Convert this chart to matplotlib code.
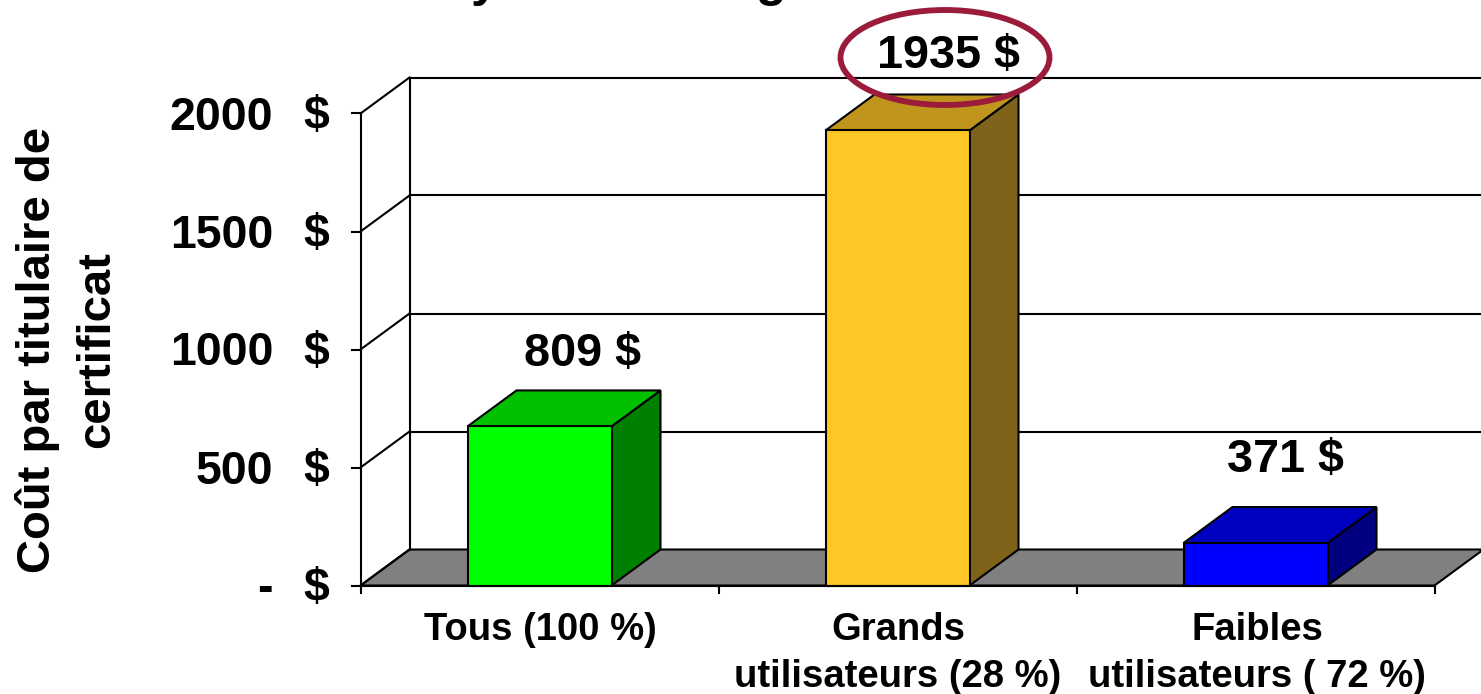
import numpy as np
import matplotlib
matplotlib.use('Agg')
import matplotlib.pyplot as plt
from matplotlib.patches import Polygon, Ellipse

plt.rcParams['font.family'] = ['Liberation Sans', 'DejaVu Sans']
plt.rcParams['font.weight'] = 'bold'

categories = ['Tous (100 %)', 'Grands\nutilisateurs (28 %)', 'Faibles\nutilisateurs ( 72 %)']
bar_heights = [674, 1928, 180]
value_labels = ['809 $', '1935 $', '371 $']
bar_colors = ['#00ff00', '#ffc726', '#0000ff']
top_colors = ['#00c000', '#bf951d', '#0000c0']
side_colors = ['#008000', '#80631a', '#000080']
y_ticks = [0, 500, 1000, 1500, 2000]
y_ticklabels = ['-', '500', '1000', '1500', '2000']
ylabel = 'Coût par titulaire de\ncertificat'

W, H = 1481, 694
x0_px, unit_x = 539.5, 358.0
y0_px, unit_y = 585.5, 472.0 / 2000
dx, dy = 49 / unit_x, 36 / unit_y
half = 72.0 / unit_x

def px_x(px):
    return (px - x0_px) / unit_x

def px_y(py):
    return (y0_px - py) / unit_y

fig = plt.figure(figsize=(W / 100, H / 100), dpi=100)
ax = fig.add_axes([0, 0, 1, 1])
ax.set_xlim(px_x(0), px_x(W))
ax.set_ylim(px_y(H), px_y(0))
ax.axis('off')

lw = 1.5
left, right = -0.5, 2.5

# plancher gris
ax.add_patch(Polygon([(left, 0), (right, 0), (right + dx, dy), (left + dx, dy)],
                     fc='#808080', ec='black', lw=lw, zorder=1))

# murs et grille
ax.plot([left, left], [0, 2000], color='black', lw=lw, zorder=2)
ax.plot([left + dx, left + dx], [dy, 2000 + dy], color='black', lw=lw, zorder=2)
for t in y_ticks:
    ax.plot([left, left + dx], [t, t + dy], color='black', lw=lw, zorder=2)
    if t > 0:
        ax.plot([left + dx, right + 0.2], [t + dy, t + dy], color='black', lw=lw, zorder=2)
    ax.plot([left - 9 / unit_x, left], [t, t], color='black', lw=lw, zorder=2)

# axe x
ax.plot([left, right], [0, 0], color='black', lw=lw, zorder=5)
for i in range(4):
    ax.plot([left + i, left + i], [0, -7 / unit_y], color='black', lw=lw, zorder=5)

# barres 3D
for i, h in enumerate(bar_heights):
    l, r = i - half, i + half
    ax.add_patch(Polygon([(r, 0), (r + dx, dy), (r + dx, h + dy), (r, h)],
                         fc=side_colors[i], ec='black', lw=lw, zorder=3))
    ax.add_patch(Polygon([(l, h), (r, h), (r + dx, h + dy), (l + dx, h + dy)],
                         fc=top_colors[i], ec='black', lw=lw, zorder=3))
    ax.add_patch(Polygon([(l, 0), (r, 0), (r, h), (l, h)],
                         fc=bar_colors[i], ec='black', lw=lw, zorder=4))

# valeurs
label_pos = [(583, 354), (948, 56), (1285, 460)]
for (px, py), s in zip(label_pos, value_labels):
    ax.text(px_x(px), px_y(py), s, ha='center', va='center', fontsize=33.7, zorder=7)

# ellipse
ax.add_patch(Ellipse((px_x(945), px_y(57.5)), 209 / unit_x, 95 / unit_y,
                     fc='none', ec='#9b1b3a', lw=4.2, zorder=6))

# etiquettes
for t, s in zip(y_ticks, y_ticklabels):
    ax.text(px_x(273), t - 4 / unit_y, s, ha='right', va='center', fontsize=33.5)
    ax.text(px_x(329), t - 4 / unit_y, '$', ha='right', va='center', fontsize=33.5)

cat_px = [540, 898, 1257]
for c, px in zip(categories, cat_px):
    ax.text(px_x(px), px_y(612.5), c, ha='center', va='top', fontsize=27.5, linespacing=1.37)

ax.text(px_x(67), px_y(350), ylabel, rotation=90, ha='center', va='center', fontsize=34,
        linespacing=1.42, multialignment='center')

# bas du titre coupe par le bord de l'image
for px, s in [(484, 'y'), (771, 'g')]:
    ax.text(px_x(px), px_y(-4), s, ha='center', va='baseline', fontsize=36, clip_on=False)

fig.savefig('out.png', dpi=100)
